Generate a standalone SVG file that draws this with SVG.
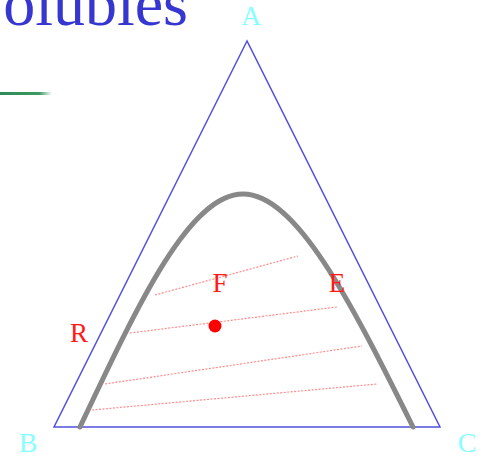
<svg xmlns="http://www.w3.org/2000/svg" width="483" height="457" viewBox="0 0 483 457">
<defs>
<linearGradient id="gl" x1="0" y1="0" x2="1" y2="0">
<stop offset="0" stop-color="#2e8b57"/>
<stop offset="0.75" stop-color="#3a9a60"/>
<stop offset="1" stop-color="#3a9a60" stop-opacity="0"/>
</linearGradient>
</defs>
<style>
.tri{fill:none;stroke:#5050dd;stroke-width:1.5}
.curve{fill:none;stroke:#888;stroke-width:5;stroke-linecap:round}
.tie{stroke:#ff7070;stroke-width:1.2;stroke-dasharray:2 1.5;opacity:0.8}
.vlab{font-family:"Liberation Serif",serif;font-size:28px;fill:#88ffff;text-anchor:middle}
.rlab{font-family:"Liberation Serif",serif;font-size:27px;fill:#ff1a1a;text-anchor:middle}
</style>
<rect width="483" height="457" fill="#fff"/>
<text x="188" y="25" font-family="Liberation Serif,serif" font-size="64" fill="#3636d0" text-anchor="end">olubles</text>
<rect x="0" y="92" width="52" height="3" fill="url(#gl)"/>
<g id="triangle"><polygon class="tri" points="247,41 54,427 440,427"/></g>
<g id="binodal"><path class="curve" d="M80,427 C140,300 190,194 243,194 C296,194 350,300 413,427"/></g>
<g id="connectors">
<line class="tie" x1="155" y1="295" x2="298" y2="256"/>
<line class="tie" x1="130" y1="333" x2="337" y2="307"/>
<line class="tie" x1="105" y1="384" x2="362" y2="346"/>
<line class="tie" x1="92" y1="410" x2="377" y2="384"/>
</g>
<g id="A"><text class="vlab" x="251" y="25" font-size="24">A</text></g>
<g id="B"><text class="vlab" x="28" y="452">B</text></g>
<g id="C"><text class="vlab" x="467" y="452">C</text></g>
<g id="R"><text class="rlab" x="79" y="342">R</text></g>
<g id="F"><text class="rlab" x="220" y="292">F</text><circle cx="215" cy="326" r="6.5" fill="#f00"/></g>
<g id="E"><text class="rlab" x="337" y="292">E</text></g>
</svg>
